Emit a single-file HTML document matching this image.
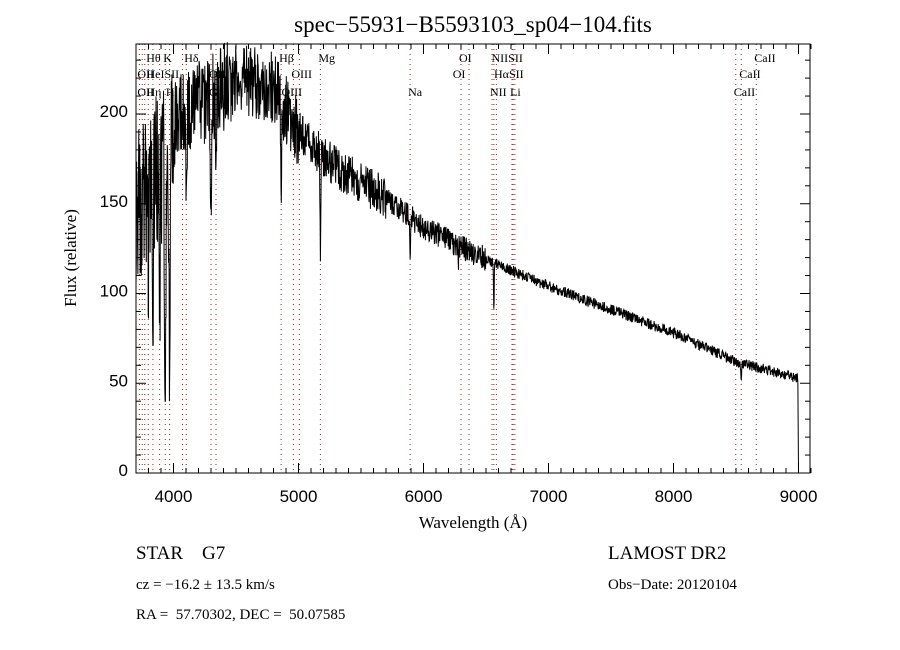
<!DOCTYPE html>
<html><head><meta charset="utf-8"><style>
body{margin:0;background:#fff;}
svg{display:block;font-family:"Liberation Serif",serif;}
text{white-space:pre;}
</style></head><body>
<svg id="sv" width="900" height="650" xmlns="http://www.w3.org/2000/svg">
<rect width="900" height="650" fill="#fff"/>
<text x="473" y="32" font-size="23" text-anchor="middle">spec−55931−B5593103_sp04−104.fits</text>
<g id="glines" stroke="#8b2020" stroke-width="1" stroke-dasharray="1,4"></g>
<g id="glabels" font-size="12"></g>
<polyline id="gspec" fill="none" stroke="#000" stroke-width="1"/>
<rect x="136" y="44" width="674" height="429" fill="none" stroke="#000" stroke-width="1"/>
<g id="gticks" stroke="#000" stroke-width="1"></g>
<g id="gtl" font-size="17" font-family="Liberation Sans,sans-serif"></g>
<text x="473" y="528" font-size="17" text-anchor="middle">Wavelength (Å)</text>
<text transform="translate(76,258) rotate(-90)" font-size="17" text-anchor="middle">Flux (relative)</text>
<text x="136" y="559" font-size="19" xml:space="preserve">STAR    G7</text>
<text x="136" y="589" font-size="15">cz = −16.2 ± 13.5 km/s</text>
<text x="136" y="619" font-size="15" xml:space="preserve">RA =  57.70302, DEC =  50.07585</text>
<text x="608" y="559" font-size="19">LAMOST DR2</text>
<text x="608" y="589" font-size="15">Obs−Date: 20120104</text>
</svg>
<script>
(function(){
var NS="http://www.w3.org/2000/svg";
function X(w){return 136+(w-3700)*0.125;}
function Y(f){return 473-f*1.795;}
function el(p,t,a,txt){var e=document.createElementNS(NS,t);for(var k in a)e.setAttribute(k,a[k]);if(txt!==undefined)e.textContent=txt;document.getElementById(p).appendChild(e);}
var lw=[3727,3750,3770,3798,3835,3889,3934,3969,4072,4102,4300,4340,4861,4959,5007,5175,5893,6300,6364,6548,6563,6583,6708,6717,6731,8498,8542,8662];
lw.forEach(function(w){el("glines","line",{x1:X(w),x2:X(w),y1:44,y2:473});});
var lab=[["Hθ",3798,62],["K",3934,62],["Hδ",4102,62],["OII",3727,78],["HeISII",3800,78],["OII",4300,78],["OII",3727,96],["Hη",3800,96],["H",3955,96],["G",4300,96],["Hβ",4861,62],["Mg",5175,62],["OIII",4959,78],["OIII",4880,96],["Na",5893,96],["OI",6300,62],["OI",6250,78],["NIISII",6560,62],["HαSII",6580,78],["NII",6548,96],["Li",6708,96],["CaII",8662,62],["CaII",8542,78],["CaII",8498,96]];
lab.forEach(function(a){el("glabels","text",{x:X(a[1])-2,y:a[2]},a[0]);});
for(var w=3700;w<=9100;w+=100){var x=X(w);var big=w%1000==0;el("gticks","line",{x1:x,x2:x,y1:473,y2:big?463:468});el("gticks","line",{x1:x,x2:x,y1:44,y2:big?54:49});if(big)el("gtl","text",{x:x,y:502,"text-anchor":"middle"},String(w));}
for(var f=0;f<=235;f+=10){var y=Y(f);var bg=f%50==0;el("gticks","line",{x1:136,x2:bg?146:141,y1:y,y2:y});el("gticks","line",{x1:810,x2:bg?800:805,y1:y,y2:y});if(bg)el("gtl","text",{x:128,y:y+3,"text-anchor":"end"},String(f));}
var cp=[[3700,150],[3900,170],[4000,195],[4200,205],[4500,220],[4800,215],[5000,190],[5300,170],[5600,158],[6000,137],[6500,119],[7000,104],[7500,91],[8000,78],[8500,62],[8990,53]];
function cont(w){for(var i=0;i<cp.length-1;i++){if(w<=cp[i+1][0]){var t=(w-cp[i][0])/(cp[i+1][0]-cp[i][0]);return cp[i][1]+t*(cp[i+1][1]-cp[i][1]);}}return 53;}
var dips=[[3934,150,8],[3969,130,8],[3835,80,5],[3889,90,5],[3798,60,5],[4102,40,6],[4300,70,8],[4340,50,5],[4861,60,5],[5175,50,5],[5893,25,4],[6563,25,4],[8542,10,4],[6280,8,4]];
var s=1;function r(){s=(s*16807)%2147483647;return s/2147483647-0.5;}
var pts=[];
for(var w2=3700;w2<=8990;w2+=2.5){var v=cont(w2);dips.forEach(function(d){var z=(w2-d[0])/d[2];v-=d[1]*Math.exp(-z*z);});
var amp=w2<4000?90:w2<4500?50:w2<5000?40:w2<5700?24:w2<6500?14:6;v+=r()*amp;v=Math.max(40,Math.min(240,v));pts.push(X(w2).toFixed(1)+","+Y(v).toFixed(1));}
pts.push(X(8995)+","+Y(50));pts.push(X(9000)+","+Y(0));
document.getElementById("gspec").setAttribute("points",pts.join(" "));
})();
</script>
</body></html>
